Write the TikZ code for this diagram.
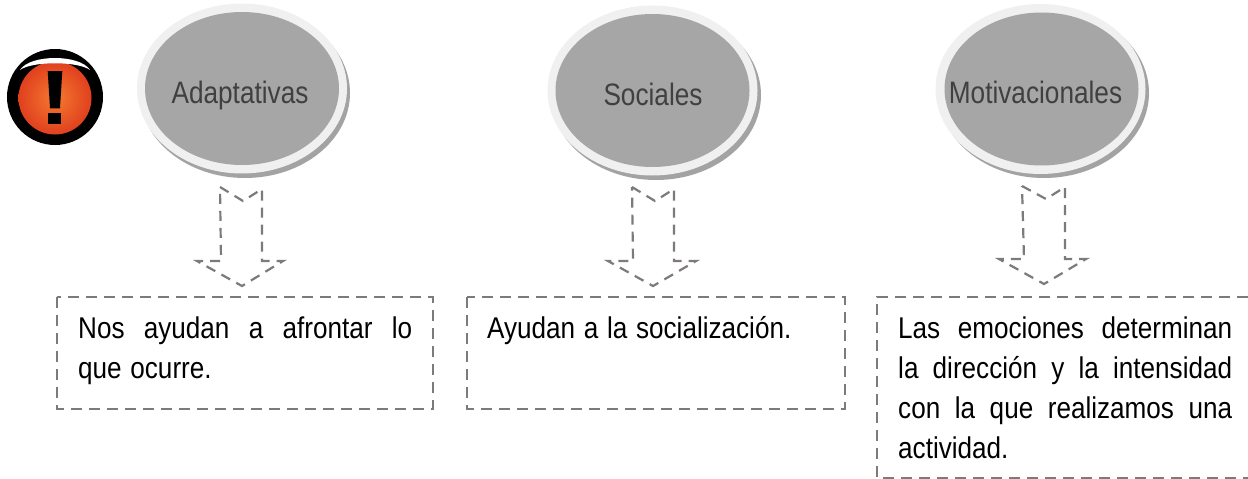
\documentclass[tikz,border=0pt]{standalone}
\usepackage{fontspec}
\usepackage{graphicx}
\usetikzlibrary{shapes.geometric}
\setmainfont{Liberation Sans}
\hbadness=10000
\definecolor{ringgray}{HTML}{F0F0F0}
\definecolor{ovalgray}{HTML}{A6A6A6}
\definecolor{shadegray}{HTML}{A3A3A3}
\definecolor{ovaltext}{HTML}{404040}
\definecolor{dashgray}{HTML}{7F7A7A}
\definecolor{warnin}{HTML}{F57A30}
\definecolor{warnout}{HTML}{E0401E}
\newcommand{\jline}[1]{\hbox{\rule{0pt}{30pt}\scalebox{0.87}[1]{\hbox to 383.9pt{\spaceskip=0pt\xspaceskip=0pt #1}}}\par}
\newcommand{\fline}[1]{\hbox{\rule{0pt}{30pt}\scalebox{0.87}[1]{#1}}\par}
\newcommand{\ovaltxt}[1]{\scalebox{0.845}[1]{#1}}
\tikzset{
  oval/.style={ellipse,inner sep=0pt,outer sep=0pt,minimum width=#1},
  shade oval/.style={oval=210pt,minimum height=170pt,fill=shadegray},
  ring oval/.style={oval=210pt,minimum height=170pt,fill=ringgray},
  core oval/.style={oval=194pt,minimum height=153pt,fill=ovalgray},
  oval label/.style={anchor=base,inner sep=0pt,text=ovaltext,font=\fontsize{31}{31}\selectfont},
  dash line/.style={draw=dashgray,line width=2.2pt,dash pattern=on 11pt off 7pt},
  down arrow/.style={draw=dashgray,line width=2.2pt,dash pattern=on 10pt off 7pt},
  body text/.style={anchor=north west,inner sep=0pt,text width=334pt,font=\fontsize{30}{40}\selectfont,align=left},
  plain box/.style={dash line}
}
\begin{document}
\begin{tikzpicture}[x=1pt,y=-1pt]
\useasboundingbox (0,0) rectangle (1248,479);
% warning icon
\node[circle,fill=black,minimum size=96pt,inner sep=0pt] (warnring) at (55,97) {};
\shade[inner color=warnin,outer color=warnout] (55,98) circle[radius=36.5];
\fill[white] (20,70) .. controls (30,54) and (80,54) .. (90,70) .. controls (78,61) and (32,61) .. cycle;
\fill[black] (47.7,71) -- (62.3,71) -- (60,108.3) -- (50,108.3) -- cycle;
\fill[black] (47.7,113.3) rectangle (61,124.3);
% ovals
\node[shade oval] (s1) at (245,93) {};
\node[ring oval] (r1) at (242,88.5) {};
\node[core oval] (c1) at (242,88.5) {};
\node[oval label] (t1) at (240,103) {\ovaltxt{Adaptativas}};
\node[shade oval] (s2) at (656,95) {};
\node[ring oval] (r2) at (652.5,90.5) {};
\node[core oval] (c2) at (652.5,90.5) {};
\node[oval label] (t2) at (653,105) {\ovaltxt{Sociales}};
\node[shade oval] (s3) at (1044,93) {};
\node[ring oval] (r3) at (1040.5,89) {};
\node[core oval] (c3) at (1041.5,89) {};
\node[oval label] (t3) at (1035.5,103) {\ovaltxt{Motivacionales}};
% dashed arrows
\draw[down arrow] (220,187) -- (243,201) -- (262,189) -- (262,261) -- (283,261) -- (242,286) -- (197,261) -- (221,261) -- cycle;
\draw[down arrow] (632,187) -- (655,201) -- (674,189) -- (674,261) -- (696,261) -- (653,286) -- (608,261) -- (633,261) -- cycle;
\draw[down arrow] (1022,186) -- (1046,199) -- (1065,187) -- (1065,259) -- (1086,259) -- (1044,284) -- (999,259) -- (1024,259) -- cycle;
% boxes
\draw[plain box] (57,297) rectangle (433,409);
\draw[plain box] (467,297) rectangle (845,409);
\draw[plain box] (1248,297) -- (877,297) -- (877,478) -- (1248,478);
% texts
\node[body text] (b1) at (78,308) {\jline{Nos ayudan a afrontar lo}\fline{que ocurre.}};
\node[body text] (b2) at (487,308) {\fline{Ayudan a la socialización.}};
\node[body text] (b3) at (898,308) {\jline{Las emociones determinan}\jline{la dirección y la intensidad}\jline{con la que realizamos una}\fline{actividad.}};
\end{tikzpicture}
\end{document}
